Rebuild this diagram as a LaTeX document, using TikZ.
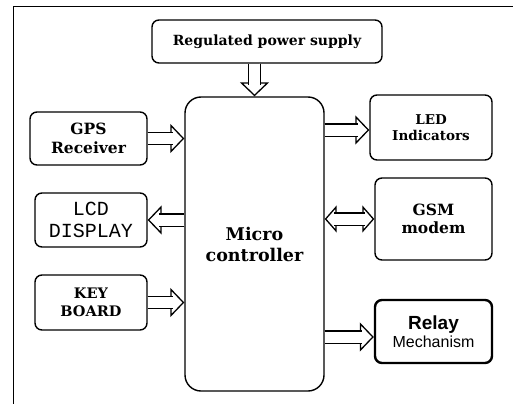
\documentclass[tikz,border=0pt]{standalone}
\usepackage{fontspec}
\setmainfont{DejaVu Serif}
\setsansfont{Liberation Sans}
\setmonofont{Liberation Mono}
\usetikzlibrary{arrows.meta,calc}
\newcommand{\fm}[1]{\fontsize{#1}{1.2\dimexpr#1pt\relax}\selectfont}
\tikzset{
  blokk/.style={draw,line width=1.4pt,rounded corners=7pt,align=center,inner sep=0pt,
                font=\bfseries\fm{14}},
  vezerlo/.style={draw,line width=1.4pt,rounded corners=16pt,align=center,
                  font=\bfseries\fm{17.5}},
  rele/.style={blokk,line width=2.4pt,font=\sffamily},
  cso/.style={double,double distance=11pt,line width=1.3pt},
  vnyil/.style={cso,-{Triangle[open,length=14pt,width=29pt]},
                postaction={draw,cso,-,shorten >=11.5pt}},
  kettos/.style={cso,{Triangle[open,length=12pt,width=27pt]}-{Triangle[open,length=12pt,width=27pt]},
                 postaction={draw,cso,-,shorten >=9.5pt,shorten <=9.5pt}},
}
\begin{document}
\begin{tikzpicture}[x=1pt,y=-1pt]
  \useasboundingbox (0,0) rectangle (513,404);
  \draw[line width=1pt] (513,7) -- (13,7) -- (13,404);
  % kozponti vezerlo
  \node[vezerlo,minimum width=139pt,minimum height=294pt] (mc) at (254.5,244) {Micro\\controller};
  \node[blokk,minimum width=230pt,minimum height=43pt] (ps) at (267,41.5) {Regulated power supply};
  % bal oldal
  \node[blokk,minimum width=117pt,minimum height=53pt,font=\bfseries\fm{15.5}] (gps) at (88.5,138.5) {GPS\\Receiver};
  \node[blokk,minimum width=112pt,minimum height=54pt,font=\ttfamily\fontsize{20}{22}\selectfont] (lcd) at (91,220) {LCD\\DISPLAY};
  \node[blokk,minimum width=112pt,minimum height=55pt,font=\bfseries\fm{14.5}] (kb) at (91,302.5) {KEY\\BOARD};
  % jobb oldal
  \node[blokk,minimum width=122pt,minimum height=65pt,font=\bfseries\fm{13.5}] (led) at (431,127.5) {LED\\Indicators};
  \node[blokk,minimum width=117pt,minimum height=82pt,font=\bfseries\fm{15.5}] (gsm) at (433.5,219) {GSM\\modem};
  \node[rele,minimum width=117pt,minimum height=63pt] (rel) at (433.5,331.5)
    {{\bfseries\fontsize{19}{22}\selectfont Relay}\\[1pt]{\fontsize{16}{18}\selectfont Mechanism}};
  \coordinate (ledbe) at ($(led.west)+(0,2.5)$);
  \coordinate (relbe) at ($(rel.west)+(0,5.5)$);
  % nyilak
  \draw[vnyil] (ps.south -| mc.north) -- (mc.north);
  \draw[vnyil] (gps.east) -- (gps.east -| mc.west);
  \draw[vnyil] (lcd.east -| mc.west) -- (lcd.east);
  \draw[vnyil] (kb.east) -- (kb.east -| mc.west);
  \draw[vnyil] (ledbe -| mc.east) -- (ledbe);
  \draw[kettos] (gsm.west -| mc.east) -- (gsm.west);
  \draw[vnyil] (relbe -| mc.east) -- (relbe);
\end{tikzpicture}
\end{document}
